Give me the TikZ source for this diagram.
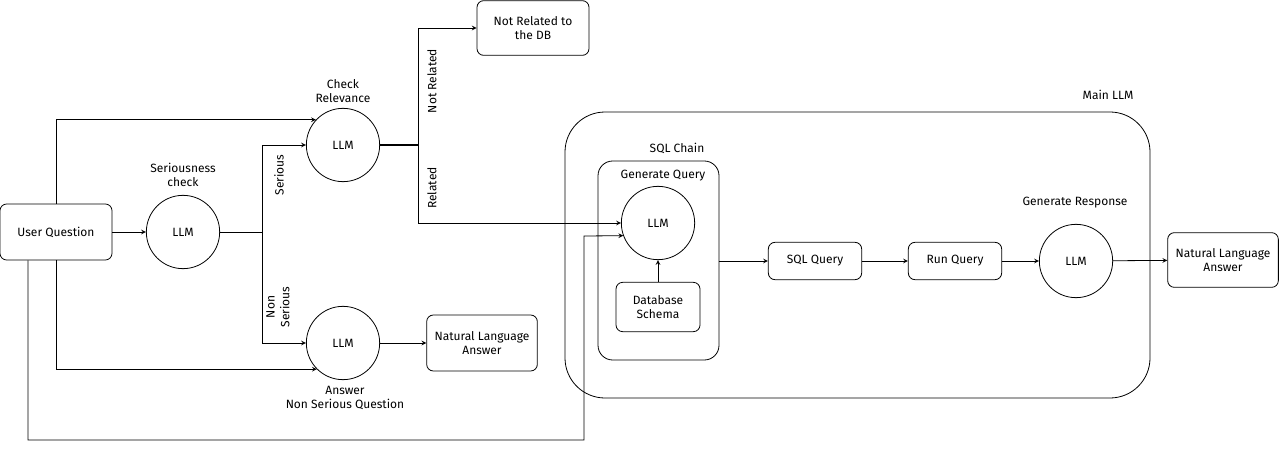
\documentclass[tikz,border=0pt]{standalone}
\usepackage{fontspec}
\setmainfont{Fira Sans}
\begin{document}
\begin{tikzpicture}[>=stealth, x=0.75pt, y=-0.75pt, line width=0.6pt, font=\fontsize{9}{11}\selectfont,
  llm/.style={draw, circle, minimum size=55pt, inner sep=0pt},
  box/.style={draw, rounded corners=5pt, align=center, inner sep=0pt},
  lbl/.style={align=center, inner sep=1pt}]
\useasboundingbox (0,0) rectangle (1280,449);
% groups
\draw[rounded corners=30pt](565,112) rectangle (1150,398);
\node[lbl] (mainlbl) at (1108,95){Main LLM};
\draw[rounded corners=11pt](598,161) rectangle (719,360);
\node[lbl] (chainlbl) at (677,148){SQL Chain};
\node[lbl] (gqlbl) at (663,176){Generate Query};
% nodes
\node[box, minimum width=84pt, minimum height=42pt] (uq) at (56,232){User Question};
\node[llm] (sc) at (183,232){LLM};
\node[lbl] at (183,175){Seriousness\\check};
\node[llm] (cr) at (343,145){LLM};
\node[lbl] at (343,91){Check\\Relevance};
\node[llm] (ns) at (343,343){LLM};
\node[lbl] at (345,398){Answer\\Non Serious Question};
\node[box, minimum width=83pt, minimum height=42pt] (nsans) at (482,343){Natural Language\\Answer};
\node[box, minimum width=84pt, minimum height=41pt] (nr) at (533,28){Not Related to\\the DB};
\node[llm] (gq) at (658,223){LLM};
\node[box, minimum width=63pt, minimum height=37pt] (schema) at (658,307){Database\\Schema};
\node[box, minimum width=70pt, minimum height=28pt] (sqlq) at (815,261){SQL Query};
\node[box, minimum width=70pt, minimum height=28pt] (runq) at (955,261){Run Query};
\node[llm] (gr) at (1076,261){LLM};
\node[lbl] at (1075,203){Generate Response};
\node[box, minimum width=83pt, minimum height=41pt] (ans) at (1223,260){Natural Language\\Answer};
\coordinate (split1) at (262,232);
\coordinate (split2) at (418,145);
\coordinate (gqout) at (719,261);
% connectors
\draw[->](uq)--(sc);
\draw(sc)--(split1);
\draw[->](split1)|-(cr);
\draw[->](split1)|-(ns);
\node[lbl, rotate=90] at (279,175){Serious};
\node[lbl, rotate=90] at (278,307){Non\\Serious};
\draw[->](uq.north)|-(cr.137);
\draw[->](uq.south)|-(ns.225);
\draw[->](uq.south-|28,0)--(28,440)-|(584,236)--(gq.200);
\draw[->](ns)--(nsans);
\draw[line width=1pt](cr)--(split2);
\draw[->](split2)|-(nr);
\draw[->](split2)|-(gq);
\node[lbl, rotate=90] at (432,81){Not Related};
\node[lbl, rotate=90] at (432,188){Related};
\draw[->](schema)--(gq);
\draw[->](gqout)--(sqlq);
\draw[->](sqlq)--(runq);
\draw[->](runq)--(gr);
\draw[->](gr)--(ans);
\end{tikzpicture}
\end{document}
